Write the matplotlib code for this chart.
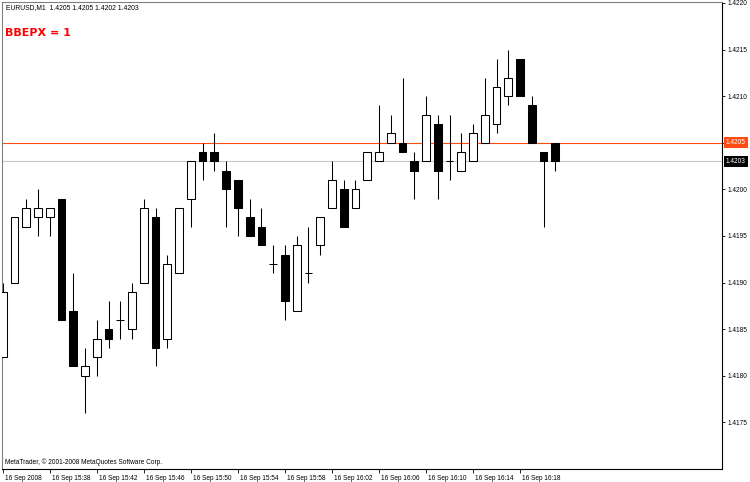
import matplotlib
matplotlib.use("Agg")
import matplotlib.pyplot as plt
import matplotlib.transforms as mtransforms

# -----------------------------
# Data: EURUSD M1 bars, 16 Sep 2008 15:34 .. 16:21
# -----------------------------
opens = [1.4182, 1.4190, 1.4196, 1.4197, 1.4197, 1.4199, 1.4187, 1.4180,
         1.4182, 1.4185, 1.4186, 1.4185, 1.4190, 1.4197, 1.4184, 1.4191,
         1.4199, 1.4204, 1.4204, 1.4202, 1.4201, 1.4197, 1.4196, 1.4192,
         1.4193, 1.4187, 1.4191, 1.4194, 1.4198, 1.4200, 1.4198, 1.4201,
         1.4203, 1.4205, 1.4205, 1.4203, 1.4203, 1.4207, 1.4203, 1.4202,
         1.4203, 1.4205, 1.4207, 1.4210, 1.4214, 1.4209, 1.4204, 1.4205]
highs = [1.4190, 1.4197, 1.4199, 1.4200, 1.4198, 1.4199, 1.4191, 1.4183,
         1.4186, 1.4188, 1.4188, 1.4190, 1.4199, 1.4198, 1.4193, 1.4198,
         1.4203, 1.4205, 1.4206, 1.4203, 1.4201, 1.4199, 1.4198, 1.4194,
         1.4194, 1.4195, 1.4196, 1.4197, 1.4203, 1.4201, 1.4201, 1.4204,
         1.4209, 1.4208, 1.4212, 1.4204, 1.4210, 1.4208, 1.4208, 1.4206,
         1.4207, 1.4212, 1.4214, 1.4215, 1.4214, 1.4210, 1.4204, 1.4205]
lows = [1.4182, 1.4190, 1.4196, 1.4195, 1.4195, 1.4186, 1.4181, 1.4176,
        1.4180, 1.4183, 1.4184, 1.4184, 1.4190, 1.4181, 1.4183, 1.4191,
        1.4196, 1.4201, 1.4202, 1.4196, 1.4195, 1.4195, 1.4194, 1.4191,
        1.4186, 1.4187, 1.4190, 1.4193, 1.4198, 1.4196, 1.4198, 1.4201,
        1.4203, 1.4205, 1.4204, 1.4199, 1.4203, 1.4199, 1.4201, 1.4202,
        1.4203, 1.4205, 1.4206, 1.4209, 1.4210, 1.4205, 1.4196, 1.4202]
closes = [1.4189, 1.4197, 1.4198, 1.4198, 1.4198, 1.4186, 1.4181, 1.4181,
          1.4184, 1.4184, 1.4186, 1.4189, 1.4198, 1.4183, 1.4192, 1.4198,
          1.4203, 1.4203, 1.4203, 1.4200, 1.4198, 1.4195, 1.4194, 1.4192,
          1.4188, 1.4194, 1.4191, 1.4197, 1.4201, 1.4196, 1.4200, 1.4204,
          1.4204, 1.4206, 1.4204, 1.4202, 1.4208, 1.4202, 1.4203, 1.4204,
          1.4206, 1.4208, 1.4211, 1.4212, 1.4210, 1.4205, 1.4203, 1.4203]

time_labels = ["16 Sep 2008", "16 Sep 15:38", "16 Sep 15:42", "16 Sep 15:46",
               "16 Sep 15:50", "16 Sep 15:54", "16 Sep 15:58", "16 Sep 16:02",
               "16 Sep 16:06", "16 Sep 16:10", "16 Sep 16:14", "16 Sep 16:18"]
label_step = 4

price_ticks = [1.4175, 1.4180, 1.4185, 1.4190, 1.4195, 1.4200,
               1.4205, 1.4210, 1.4215, 1.4220]

ask_price = 1.4205
bid_price = 1.4203
header = "EURUSD,M1  1.4205 1.4205 1.4202 1.4203"
indicator_text = "BBEPX = 1"
copyright_text = "MetaTrader, \u00a9 2001-2008 MetaQuotes Software Corp."

# -----------------------------
# Figure
# -----------------------------
plt.rcParams["font.family"] = ["Liberation Sans", "DejaVu Sans"]
SMALL = 4.7
ORANGE = "#ff4a12"

fig = plt.figure(figsize=(7.5, 4.82), dpi=100)
ax = fig.add_axes([2 / 750, 13 / 482, 720 / 750, 467 / 482])

x = list(range(len(opens)))
w = 0.66

# wicks
ax.vlines(x, lows, highs, color="black", lw=0.75, zorder=2)

# bodies
for i in x:
    o, c = opens[i], closes[i]
    if abs(c - o) < 1e-9:
        ax.hlines(o, i - w / 2, i + w / 2, color="black", lw=0.75, zorder=3)
        continue
    face = "white" if c > o else "black"
    ax.bar(i, abs(c - o), bottom=min(o, c), width=w, color=face,
           edgecolor="black", linewidth=0.75, zorder=3)

# ask / bid lines
ax.axhline(ask_price, color=ORANGE, lw=0.8, zorder=1)
ax.axhline(bid_price, color="#c8c8c8", lw=0.8, zorder=1)

ax.set_xlim(-0.06, 61.17)
ax.set_ylim(1.41700, 1.42201)

# right price scale (the ask box covers its own tick label)
ax.yaxis.tick_right()
ax.set_yticks(price_ticks)
ax.set_yticklabels(["" if abs(p - ask_price) < 1e-9 else f"{p:.4f}"
                    for p in price_ticks])
ax.tick_params(axis="y", direction="out", length=2.5, width=0.6,
               pad=1.5, labelsize=SMALL, colors="black")

# bottom time scale
ax.set_xticks([i * label_step for i in range(len(time_labels))])
ax.set_xticklabels(time_labels, ha="left")
ax.tick_params(axis="x", direction="out", length=3, width=0.6,
               pad=1.5, labelsize=SMALL, colors="black")
shift = mtransforms.ScaledTranslation(2 / 100, 0, fig.dpi_scale_trans)
for lab in ax.get_xticklabels():
    lab.set_transform(lab.get_transform() + shift)

for side in ["left", "top"]:
    ax.spines[side].set_color("#808080")
    ax.spines[side].set_linewidth(0.8)
for side in ["right", "bottom"]:
    ax.spines[side].set_color("black")
    ax.spines[side].set_linewidth(0.8)

# price boxes on the scale
for price, col in [(ask_price, ORANGE), (bid_price, "black")]:
    ax.annotate(f"{price:.4f}", xy=(1, price), xycoords=("axes fraction", "data"),
                xytext=(4, 0), textcoords="offset pixels", ha="left", va="center",
                fontsize=SMALL, color="white", annotation_clip=False, zorder=5,
                bbox=dict(boxstyle="square,pad=0.3", fc=col, ec="none"))

# texts
ax.text(4 / 720, 1 - 6 / 467, header, transform=ax.transAxes, ha="left",
        va="center", fontsize=4.9, color="black")
ax.text(3 / 720, 1 - 31 / 467, indicator_text, transform=ax.transAxes,
        ha="left", va="center", fontsize=8, fontweight="bold", color="red",
        family="DejaVu Sans")
ax.text(3 / 720, 7 / 467, copyright_text, transform=ax.transAxes,
        ha="left", va="center", fontsize=SMALL, color="black")

fig.savefig("out.png", dpi=100)
